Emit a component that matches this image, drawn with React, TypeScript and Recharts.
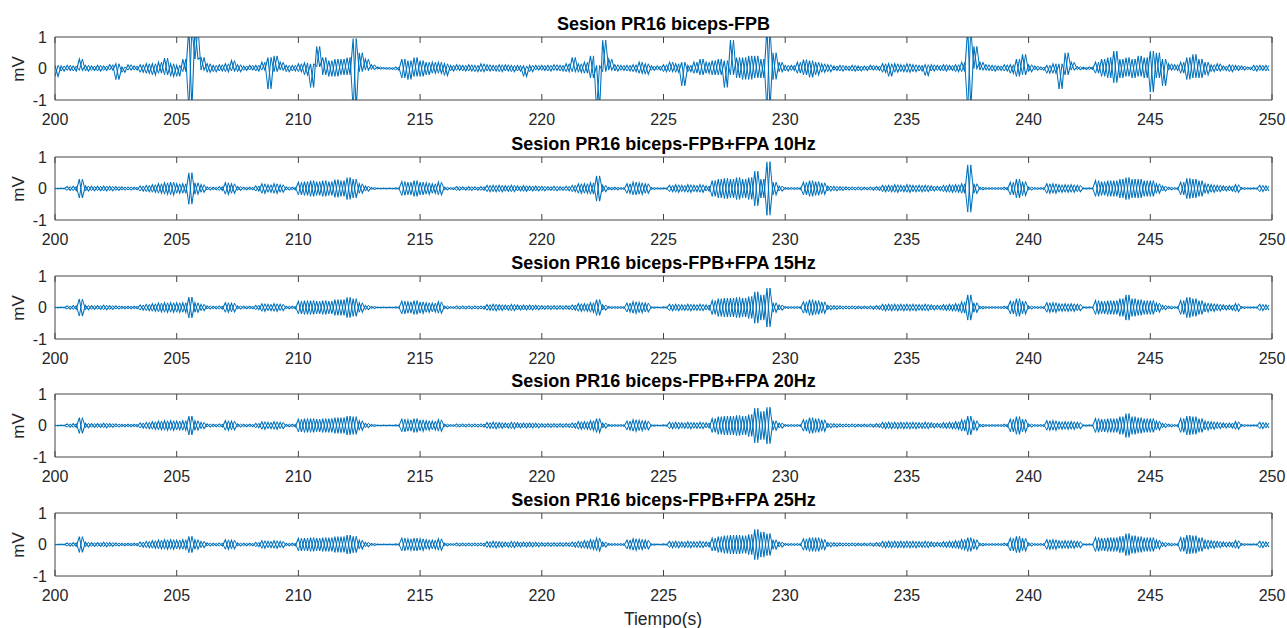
import React from "react";
import { LineChart, Line, XAxis, YAxis } from "recharts";

// ── Axes / labels ─────────────────────────────────────────────

const xTicks = [200, 205, 210, 215, 220, 225, 230, 235, 240, 245, 250];
const yTicks = [-1, 0, 1];
const titles = [
  "Sesion PR16 biceps-FPB",
  "Sesion PR16 biceps-FPB+FPA 10Hz",
  "Sesion PR16 biceps-FPB+FPA 15Hz",
  "Sesion PR16 biceps-FPB+FPA 20Hz",
  "Sesion PR16 biceps-FPB+FPA 25Hz",
];

// ── Signals, read per 0.25 s bin (peak then trough, mV) ───────

const T0 = 200;
const BIN = 0.25;

// raw biceps-FPB: peak / trough per bin
const rawHi = [
  0.1, 0.08, 0.1, 0.08, 0.3, 0.1, 0.08, 0.1, 0.08, 0.12, 0.15, 0.05, 0.12, 0.08, 0.12, 0.15, 0.15, 0.2, 0.33, 0.15,
  0.1, 0.3, 1.3, 1.3, 0.35, 0.15, 0.1, 0.12, 0.15, 0.25, 0.12, 0.08, 0.1, 0.1, 0.2, 0.35, 0.4, 0.2, 0.1, 0.1,
  0.15, 0.18, 0.15, 0.7, 0.35, 0.25, 0.3, 0.3, 0.35, 0.95, 0.5, 0.3, 0.12, 0.05, 0.03, 0.03, 0.05, 0.3, 0.25, 0.35,
  0.25, 0.2, 0.2, 0.2, 0.15, 0.1, 0.12, 0.1, 0.12, 0.1, 0.15, 0.12, 0.1, 0.12, 0.12, 0.1, 0.1, 0.08, 0.1, 0.1,
  0.1, 0.1, 0.12, 0.1, 0.15, 0.35, 0.15, 0.2, 0.4, 0.1, 0.9, 0.3, 0.12, 0.1, 0.1, 0.12, 0.2, 0.15, 0.08, 0.08,
  0.12, 0.2, 0.15, 0.2, 0.1, 0.2, 0.3, 0.2, 0.25, 0.3, 0.25, 0.9, 0.35, 0.35, 0.4, 0.4, 0.3, 1.3, 0.5, 0.2,
  0.1, 0.1, 0.2, 0.28, 0.25, 0.2, 0.15, 0.12, 0.08, 0.1, 0.08, 0.1, 0.08, 0.08, 0.1, 0.08, 0.15, 0.15, 0.15, 0.12,
  0.15, 0.12, 0.1, 0.12, 0.12, 0.1, 0.12, 0.1, 0.12, 0.2, 1.3, 0.7, 0.2, 0.12, 0.1, 0.08, 0.12, 0.12, 0.3, 0.45,
  0.12, 0.08, 0.05, 0.1, 0.15, 0.15, 0.5, 0.2, 0.06, 0.04, 0.05, 0.2, 0.3, 0.35, 0.55, 0.3, 0.35, 0.3, 0.4, 0.35,
  0.55, 0.5, 0.3, 0.15, 0.12, 0.2, 0.35, 0.45, 0.3, 0.2, 0.12, 0.15, 0.08, 0.12, 0.1, 0.08, 0.05, 0.1, 0.1, 0.1,
];
const rawLo = [
  -0.25, -0.08, -0.06, -0.08, -0.06, -0.08, -0.06, -0.08, -0.06, -0.05, -0.35, -0.12, -0.05, -0.05, -0.12, -0.15, -0.2, -0.15, -0.2, -0.25,
  -0.25, -0.1, -1.3, 0.3, -0.05, -0.12, -0.1, -0.08, -0.1, -0.08, -0.1, -0.06, -0.05, -0.08, -0.05, -0.65, -0.1, -0.05, -0.1, -0.08,
  -0.1, -0.2, -0.6, 0.05, -0.2, -0.25, -0.25, -0.2, -0.2, -1.3, -0.1, -0.05, -0.03, -0.02, -0.02, -0.03, -0.05, -0.3, -0.35, -0.25,
  -0.25, -0.2, -0.15, -0.15, -0.22, -0.08, -0.06, -0.08, -0.08, -0.1, -0.1, -0.08, -0.08, -0.1, -0.08, -0.1, -0.08, -0.25, -0.1, -0.05,
  -0.06, -0.08, -0.06, -0.08, -0.1, -0.1, -0.12, -0.15, -0.3, -1.3, -0.1, -0.05, -0.08, -0.06, -0.08, -0.1, -0.15, -0.18, -0.06, -0.05,
  -0.1, -0.1, -0.12, -0.55, -0.1, -0.15, -0.2, -0.15, -0.2, -0.2, -0.6, -0.2, -0.3, -0.35, -0.35, -0.3, -0.3, -1.3, -0.35, -0.1,
  -0.08, -0.06, -0.15, -0.2, -0.28, -0.2, -0.12, -0.1, -0.06, -0.08, -0.06, -0.08, -0.08, -0.06, -0.05, -0.06, -0.12, -0.25, -0.12, -0.1,
  -0.12, -0.1, -0.08, -0.22, -0.08, -0.06, -0.08, -0.06, -0.1, -0.1, -1.3, 0.0, -0.05, -0.06, -0.08, -0.06, -0.08, -0.15, -0.25, -0.2,
  -0.1, -0.05, -0.05, -0.15, -0.15, -0.65, -0.2, -0.05, -0.04, -0.03, -0.03, -0.15, -0.25, -0.3, -0.45, -0.3, -0.25, -0.3, -0.25, -0.3,
  -0.75, -0.3, -0.55, -0.05, -0.06, -0.15, -0.35, -0.3, -0.3, -0.2, -0.1, -0.08, -0.06, -0.1, -0.06, -0.05, -0.04, -0.08, -0.06, -0.08,
];

// stimulated sessions: envelope amplitude per bin (±)
const amp10 = [
  0.01, 0.01, 0.06, 0.07, 0.3, 0.08, 0.07, 0.07, 0.08, 0.07, 0.06, 0.05, 0.05, 0.04, 0.08, 0.1, 0.12, 0.15, 0.18, 0.2,
  0.15, 0.15, 0.5, 0.18, 0.12, 0.05, 0.04, 0.06, 0.18, 0.15, 0.06, 0.04, 0.04, 0.08, 0.15, 0.12, 0.15, 0.12, 0.05, 0.04,
  0.2, 0.22, 0.25, 0.22, 0.25, 0.22, 0.28, 0.25, 0.35, 0.3, 0.15, 0.08, 0.03, 0.01, 0.01, 0.01, 0.02, 0.22, 0.2, 0.25,
  0.2, 0.18, 0.15, 0.2, 0.04, 0.03, 0.06, 0.05, 0.06, 0.05, 0.06, 0.1, 0.1, 0.1, 0.09, 0.1, 0.08, 0.09, 0.08, 0.08,
  0.07, 0.06, 0.07, 0.06, 0.07, 0.1, 0.15, 0.15, 0.18, 0.4, 0.1, 0.04, 0.04, 0.03, 0.15, 0.2, 0.18, 0.15, 0.03, 0.02,
  0.02, 0.1, 0.12, 0.1, 0.12, 0.1, 0.12, 0.08, 0.25, 0.3, 0.32, 0.3, 0.35, 0.3, 0.35, 0.55, 0.3, 0.85, 0.2, 0.08,
  0.03, 0.03, 0.03, 0.2, 0.25, 0.22, 0.18, 0.08, 0.07, 0.06, 0.05, 0.05, 0.05, 0.04, 0.05, 0.06, 0.1, 0.1, 0.12, 0.1,
  0.12, 0.1, 0.1, 0.1, 0.08, 0.07, 0.1, 0.12, 0.12, 0.15, 0.75, 0.15, 0.04, 0.03, 0.03, 0.03, 0.04, 0.2, 0.3, 0.22,
  0.05, 0.03, 0.03, 0.15, 0.15, 0.12, 0.12, 0.12, 0.1, 0.02, 0.02, 0.25, 0.22, 0.25, 0.25, 0.3, 0.35, 0.3, 0.3, 0.25,
  0.25, 0.15, 0.08, 0.04, 0.03, 0.2, 0.32, 0.3, 0.25, 0.15, 0.12, 0.1, 0.08, 0.08, 0.12, 0.03, 0.02, 0.02, 0.1, 0.08,
];
const amp15 = [
  0.01, 0.01, 0.05, 0.06, 0.27, 0.07, 0.06, 0.06, 0.07, 0.06, 0.05, 0.04, 0.04, 0.04, 0.08, 0.1, 0.12, 0.14, 0.15, 0.15,
  0.15, 0.15, 0.33, 0.15, 0.1, 0.05, 0.04, 0.05, 0.15, 0.14, 0.05, 0.04, 0.04, 0.07, 0.12, 0.1, 0.12, 0.1, 0.04, 0.04,
  0.2, 0.22, 0.22, 0.2, 0.22, 0.2, 0.25, 0.25, 0.32, 0.28, 0.15, 0.07, 0.03, 0.01, 0.01, 0.01, 0.02, 0.2, 0.18, 0.22,
  0.18, 0.15, 0.14, 0.18, 0.04, 0.03, 0.05, 0.05, 0.05, 0.05, 0.05, 0.09, 0.1, 0.09, 0.08, 0.1, 0.08, 0.08, 0.08, 0.07,
  0.06, 0.06, 0.06, 0.06, 0.06, 0.08, 0.12, 0.12, 0.15, 0.25, 0.08, 0.03, 0.03, 0.03, 0.14, 0.18, 0.16, 0.14, 0.02, 0.01,
  0.02, 0.1, 0.1, 0.09, 0.1, 0.09, 0.1, 0.08, 0.22, 0.28, 0.3, 0.3, 0.32, 0.3, 0.35, 0.5, 0.4, 0.62, 0.15, 0.08,
  0.03, 0.03, 0.03, 0.18, 0.25, 0.22, 0.18, 0.07, 0.06, 0.05, 0.05, 0.05, 0.04, 0.04, 0.05, 0.06, 0.1, 0.1, 0.1, 0.1,
  0.1, 0.1, 0.09, 0.1, 0.08, 0.07, 0.09, 0.1, 0.12, 0.18, 0.4, 0.15, 0.04, 0.03, 0.03, 0.03, 0.04, 0.2, 0.28, 0.2,
  0.05, 0.03, 0.03, 0.15, 0.15, 0.12, 0.12, 0.12, 0.1, 0.02, 0.02, 0.22, 0.2, 0.22, 0.22, 0.28, 0.4, 0.28, 0.25, 0.22,
  0.22, 0.14, 0.07, 0.04, 0.03, 0.22, 0.32, 0.28, 0.22, 0.14, 0.12, 0.1, 0.08, 0.08, 0.12, 0.03, 0.02, 0.02, 0.1, 0.08,
];
const amp20 = [
  0.01, 0.01, 0.05, 0.06, 0.25, 0.07, 0.06, 0.06, 0.07, 0.06, 0.05, 0.04, 0.04, 0.04, 0.08, 0.1, 0.12, 0.14, 0.15, 0.15,
  0.14, 0.15, 0.3, 0.15, 0.1, 0.05, 0.04, 0.05, 0.15, 0.14, 0.05, 0.04, 0.04, 0.07, 0.12, 0.1, 0.12, 0.1, 0.04, 0.04,
  0.2, 0.22, 0.22, 0.2, 0.22, 0.22, 0.25, 0.25, 0.3, 0.28, 0.15, 0.07, 0.03, 0.01, 0.01, 0.01, 0.02, 0.2, 0.18, 0.22,
  0.18, 0.15, 0.14, 0.18, 0.04, 0.03, 0.05, 0.05, 0.05, 0.05, 0.05, 0.09, 0.1, 0.09, 0.08, 0.1, 0.08, 0.08, 0.08, 0.07,
  0.06, 0.06, 0.06, 0.06, 0.06, 0.08, 0.12, 0.12, 0.15, 0.22, 0.08, 0.03, 0.03, 0.03, 0.14, 0.18, 0.16, 0.14, 0.02, 0.01,
  0.02, 0.1, 0.1, 0.09, 0.1, 0.09, 0.1, 0.08, 0.22, 0.28, 0.3, 0.3, 0.32, 0.3, 0.35, 0.55, 0.45, 0.58, 0.15, 0.08,
  0.03, 0.03, 0.03, 0.18, 0.25, 0.22, 0.18, 0.07, 0.06, 0.05, 0.05, 0.05, 0.04, 0.04, 0.05, 0.06, 0.1, 0.1, 0.1, 0.1,
  0.1, 0.1, 0.09, 0.1, 0.08, 0.07, 0.09, 0.1, 0.12, 0.18, 0.3, 0.15, 0.04, 0.03, 0.03, 0.03, 0.04, 0.2, 0.28, 0.2,
  0.05, 0.03, 0.03, 0.15, 0.15, 0.12, 0.12, 0.12, 0.1, 0.02, 0.02, 0.22, 0.2, 0.22, 0.22, 0.28, 0.38, 0.28, 0.25, 0.22,
  0.22, 0.14, 0.07, 0.04, 0.03, 0.22, 0.3, 0.28, 0.22, 0.14, 0.12, 0.1, 0.08, 0.08, 0.12, 0.03, 0.02, 0.02, 0.1, 0.08,
];
const amp25 = [
  0.01, 0.01, 0.05, 0.06, 0.25, 0.07, 0.06, 0.06, 0.07, 0.06, 0.05, 0.04, 0.04, 0.04, 0.08, 0.1, 0.12, 0.14, 0.15, 0.15,
  0.14, 0.15, 0.26, 0.15, 0.1, 0.05, 0.04, 0.05, 0.15, 0.14, 0.05, 0.04, 0.04, 0.07, 0.12, 0.1, 0.12, 0.1, 0.04, 0.04,
  0.2, 0.2, 0.22, 0.2, 0.22, 0.22, 0.25, 0.25, 0.3, 0.26, 0.14, 0.07, 0.03, 0.01, 0.01, 0.01, 0.02, 0.2, 0.18, 0.2,
  0.18, 0.15, 0.14, 0.18, 0.04, 0.03, 0.05, 0.05, 0.05, 0.05, 0.05, 0.09, 0.1, 0.09, 0.08, 0.1, 0.08, 0.08, 0.08, 0.07,
  0.06, 0.06, 0.06, 0.06, 0.06, 0.08, 0.1, 0.12, 0.15, 0.2, 0.08, 0.03, 0.03, 0.03, 0.14, 0.18, 0.16, 0.14, 0.02, 0.01,
  0.02, 0.1, 0.1, 0.09, 0.1, 0.09, 0.1, 0.08, 0.2, 0.25, 0.28, 0.3, 0.3, 0.28, 0.32, 0.48, 0.4, 0.35, 0.15, 0.08,
  0.03, 0.03, 0.03, 0.18, 0.22, 0.22, 0.16, 0.07, 0.06, 0.05, 0.05, 0.05, 0.04, 0.04, 0.05, 0.06, 0.1, 0.1, 0.1, 0.1,
  0.1, 0.1, 0.09, 0.1, 0.08, 0.07, 0.09, 0.1, 0.12, 0.16, 0.22, 0.15, 0.04, 0.03, 0.03, 0.03, 0.04, 0.2, 0.26, 0.2,
  0.05, 0.03, 0.03, 0.15, 0.15, 0.12, 0.12, 0.12, 0.1, 0.02, 0.02, 0.22, 0.2, 0.22, 0.22, 0.26, 0.35, 0.28, 0.25, 0.22,
  0.22, 0.14, 0.07, 0.04, 0.03, 0.22, 0.3, 0.28, 0.22, 0.14, 0.12, 0.1, 0.08, 0.08, 0.12, 0.03, 0.02, 0.02, 0.1, 0.08,
];

// ── Helpers ───────────────────────────────────────────────────

// each bin gives two samples; trace "a" goes peak→trough, trace "b" trough→peak,
// so the two crossing traces fill the burst like the dense recording does
interface Pt { t: number; a: number; b: number; }

const toSeries = (hi: number[], lo: number[]): Pt[] =>
  hi.flatMap((h, i) => [
    { t: T0 + i * BIN, a: h, b: lo[i] },
    { t: T0 + i * BIN + BIN / 2, a: lo[i], b: h },
  ]);

const neg = (a: number[]) => a.map((x) => -x);

const panels: Pt[][] = [
  toSeries(rawHi, rawLo),
  toSeries(amp10, neg(amp10)),
  toSeries(amp15, neg(amp15)),
  toSeries(amp20, neg(amp20)),
  toSeries(amp25, neg(amp25)),
];

const plotTops = [37, 157, 276, 394, 513];

const W = 1287;
const PLOT_H = 63;
const PAD_T = 10;
const AXIS_H = 26;
const AXIS = "#444444";
const TEXT = "#262626";
const FONT = "'Liberation Sans', Arial, Helvetica, sans-serif";
const BLUE = "#0072BD";

const BottomTick = (p: any) => (
  <g>
    <line x1={p.x} x2={p.x} y1={p.y} y2={p.y - 6} stroke={AXIS} />
    <text x={p.x} y={p.y + 19} textAnchor="middle" dominantBaseline="central"
      fontSize={16} fill={TEXT} fontFamily={FONT}>
      {p.payload.value}
    </text>
  </g>
);

const TopTick = (p: any) => (
  <line x1={p.x} x2={p.x} y1={p.y} y2={p.y + 6} stroke={AXIS} />
);

const LeftTick = (p: any) => (
  <text x={p.x - 8} y={p.y} textAnchor="end" dominantBaseline="central"
    fontSize={16} fill={TEXT} fontFamily={FONT}>
    {p.payload.value}
  </text>
);

// ── One subplot ───────────────────────────────────────────────

const Panel: React.FC<{ data: Pt[]; top: number; title: string }> = ({ data, top, title }) => (
  <>
    <div style={{ position: "absolute", left: 0, top: top - PAD_T }}>
      <LineChart width={W} height={PAD_T + PLOT_H + AXIS_H} data={data}
        margin={{ top: PAD_T - 1, right: 14, bottom: 0, left: 0 }}>
        <XAxis xAxisId="b" dataKey="t" type="number" domain={[200, 250]} ticks={xTicks}
          allowDataOverflow interval={0} height={AXIS_H} tickSize={0} tickMargin={0}
          stroke={AXIS} tick={(p: any) => <BottomTick {...p} />} />
        <XAxis xAxisId="t" orientation="top" dataKey="t" type="number" domain={[200, 250]}
          ticks={xTicks} interval={0} height={1} tickSize={0} tickMargin={0}
          stroke={AXIS} tick={(p: any) => <TopTick {...p} />} />
        <YAxis yAxisId="l" type="number" domain={[-1, 1]} ticks={yTicks} allowDataOverflow
          interval={0} width={55} tickSize={0} tickMargin={0} stroke={AXIS}
          tick={(p: any) => <LeftTick {...p} />} />
        <YAxis yAxisId="r" orientation="right" type="number" domain={[-1, 1]} ticks={yTicks}
          width={1} tick={false} tickLine={false} stroke={AXIS} />
        <Line xAxisId="b" yAxisId="l" dataKey="b" type="linear" stroke={BLUE}
          strokeWidth={1} dot={false} activeDot={false} isAnimationActive={false} />
        <Line xAxisId="b" yAxisId="l" dataKey="a" type="linear" stroke={BLUE}
          strokeWidth={1.1} dot={false} activeDot={false} isAnimationActive={false} />
      </LineChart>
    </div>
    <div style={{ ...styles.title, top: top - 13 }}>{title}</div>
    <div style={{ ...styles.ylabel, top: top + PLOT_H / 2 }}>mV</div>
  </>
);

export default function App() {
  return (
    <div style={styles.page}>
      {panels.map((d, i) => (
        <Panel key={i} data={d} top={plotTops[i]} title={titles[i]} />
      ))}
      <div style={styles.xlabel}>Tiempo(s)</div>
    </div>
  );
}

const styles: Record<string, React.CSSProperties> = {
  page: {
    position: "absolute", left: 0, top: 0, width: W, height: 628,
    background: "#ffffff", overflow: "hidden", fontFamily: FONT,
  },
  title: {
    position: "absolute", left: 55, width: 1217, textAlign: "center",
    transform: "translateY(-50%)", fontSize: 18, fontWeight: 700, color: "#000",
    lineHeight: "20px", whiteSpace: "nowrap",
  },
  ylabel: {
    position: "absolute", left: 19, transform: "translate(-50%, -50%) rotate(-90deg)",
    fontSize: 17, color: TEXT, lineHeight: "20px", whiteSpace: "nowrap",
  },
  xlabel: {
    position: "absolute", left: 663, top: 619, transform: "translate(-50%, -50%)",
    fontSize: 17.5, color: TEXT, lineHeight: "20px", whiteSpace: "nowrap",
  },
};
